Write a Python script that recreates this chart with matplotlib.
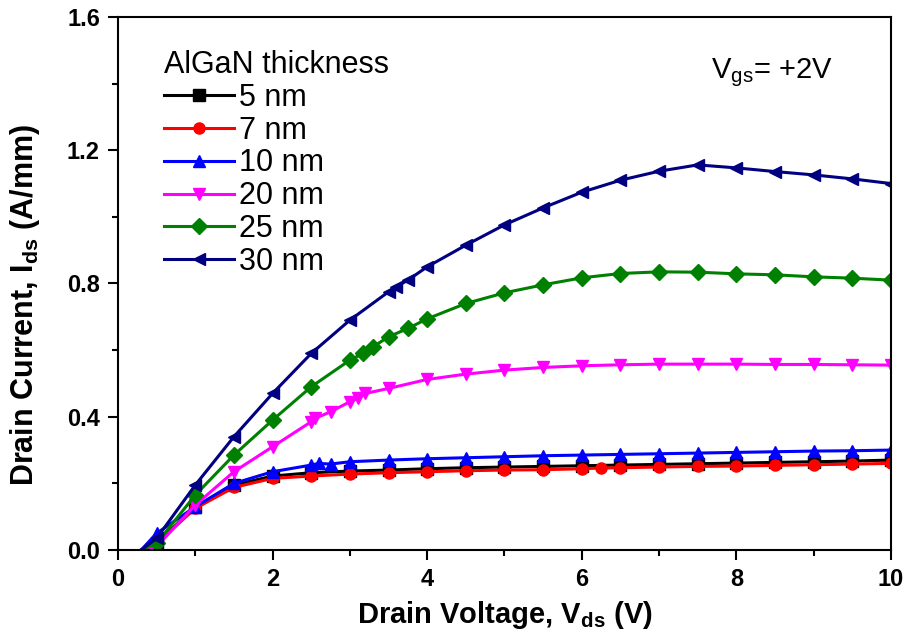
#Drain current vs drain voltage for different AlGaN thicknesses
import matplotlib
matplotlib.use('Agg')
import matplotlib.pyplot as plt
from matplotlib.ticker import MultipleLocator

#----------Datos----------#
labels = ['5 nm', '7 nm', '10 nm', '20 nm', '25 nm', '30 nm']
colors = ['black', 'red', 'blue', 'magenta', 'green', 'navy']
markers = ['s', 'o', '^', 'v', 'D', '<']

vd_5 = [0.3, 0.5, 1.0, 1.5, 2.0, 2.5, 3.0, 3.5, 4.0, 4.5, 5.0, 5.5, 6.0, 6.5, 7.0, 7.5, 8.0, 8.5, 9.0, 9.5, 10.0]
id_5 = [0.0, 0.02, 0.13, 0.195, 0.222, 0.232, 0.237, 0.240, 0.244, 0.247, 0.249, 0.251, 0.253, 0.255, 0.257, 0.259, 0.261, 0.263, 0.265, 0.267, 0.270]

vd_7 = [0.3, 0.5, 1.0, 1.5, 2.0, 2.5, 3.0, 3.5, 4.0, 4.5, 5.0, 5.5, 6.0, 6.25, 6.5, 7.0, 7.5, 8.0, 8.5, 9.0, 9.5, 10.0]
id_7 = [0.0, 0.02, 0.125, 0.188, 0.215, 0.222, 0.228, 0.232, 0.235, 0.238, 0.240, 0.241, 0.244, 0.246, 0.247, 0.249, 0.251, 0.252, 0.254, 0.256, 0.258, 0.260]

vd_10 = [0.3, 0.5, 1.0, 1.5, 2.0, 2.5, 2.6, 2.75, 3.0, 3.5, 4.0, 4.5, 5.0, 5.5, 6.0, 6.5, 7.0, 7.5, 8.0, 8.5, 9.0, 9.5, 10.0]
id_10 = [0.0, 0.05, 0.13, 0.20, 0.235, 0.255, 0.26, 0.258, 0.265, 0.27, 0.274, 0.277, 0.28, 0.283, 0.285, 0.287, 0.289, 0.291, 0.293, 0.295, 0.297, 0.298, 0.30]

vd_20 = [0.3, 0.5, 1.0, 1.5, 2.0, 2.5, 2.55, 2.75, 3.0, 3.1, 3.2, 3.5, 4.0, 4.5, 5.0, 5.5, 6.0, 6.5, 7.0, 7.5, 8.0, 8.5, 9.0, 9.5, 10.0]
id_20 = [0.0, 0.01, 0.135, 0.235, 0.31, 0.385, 0.395, 0.415, 0.445, 0.455, 0.47, 0.485, 0.512, 0.528, 0.54, 0.548, 0.553, 0.556, 0.558, 0.558, 0.558, 0.557, 0.557, 0.556, 0.555]

vd_25 = [0.3, 0.5, 1.0, 1.5, 2.0, 2.5, 3.0, 3.17, 3.3, 3.5, 3.75, 4.0, 4.5, 5.0, 5.5, 6.0, 6.5, 7.0, 7.5, 8.0, 8.5, 9.0, 9.5, 10.0]
id_25 = [0.0, 0.02, 0.165, 0.285, 0.39, 0.49, 0.57, 0.59, 0.61, 0.64, 0.665, 0.694, 0.74, 0.772, 0.796, 0.817, 0.83, 0.835, 0.834, 0.829, 0.826, 0.82, 0.816, 0.81]

vd_30 = [0.3, 0.5, 1.0, 1.5, 2.0, 2.5, 3.0, 3.5, 3.6, 3.75, 4.0, 4.5, 5.0, 5.5, 6.0, 6.5, 7.0, 7.5, 8.0, 8.5, 9.0, 9.5, 10.0]
id_30 = [0.0, 0.035, 0.195, 0.34, 0.47, 0.59, 0.69, 0.775, 0.79, 0.81, 0.85, 0.915, 0.976, 1.027, 1.074, 1.11, 1.137, 1.156, 1.147, 1.136, 1.126, 1.114, 1.10]

vds = [vd_5, vd_7, vd_10, vd_20, vd_25, vd_30]
ids = [id_5, id_7, id_10, id_20, id_25, id_30]

#----------Grafica----------#
plt.rcParams['font.family'] = ['Liberation Sans', 'DejaVu Sans']
plt.rcParams['mathtext.fontset'] = 'custom'
plt.rcParams['mathtext.rm'] = 'Liberation Sans'
plt.rcParams['mathtext.bf'] = 'Liberation Sans:bold'

fig = plt.figure(figsize=(9.11, 6.43), dpi=100)
ax = fig.add_axes([0.1295, 0.1446, 0.8485, 0.829])

# la primera muestra (Id = 0) no lleva marcador
for x, y, lab, c, m in zip(vds, ids, labels, colors, markers):
    ax.plot(x, y, color=c, marker=m, markersize=8, linewidth=2.2, label=lab,
            markevery=list(range(1, len(x))))

ax.set_xlim(0, 10)
ax.set_ylim(0, 1.6)
ax.xaxis.set_major_locator(MultipleLocator(2))
ax.xaxis.set_minor_locator(MultipleLocator(1))
ax.yaxis.set_major_locator(MultipleLocator(0.4))
ax.yaxis.set_minor_locator(MultipleLocator(0.2))
ax.yaxis.set_major_formatter(plt.FuncFormatter(lambda v, p: f'{v:.1f}'))
ax.tick_params(which='both', direction='out', width=1.5, top=False, right=False)
ax.tick_params(which='major', length=7, labelsize=17, pad=6)
ax.tick_params(which='minor', length=4)
for lbl in ax.get_xticklabels() + ax.get_yticklabels():
    lbl.set_fontweight('bold')
for s in ax.spines.values():
    s.set_linewidth(1.5)

ax.set_xlabel(r'Drain Voltage, V$_{\mathbf{ds}}$ (V)', fontsize=21, fontweight='bold', labelpad=6)
ax.set_ylabel(r'Drain Current, I$_{\mathbf{ds}}$ (A/mm)', fontsize=22, fontweight='bold', labelpad=18)
ax.yaxis.label.set_y(0.46)

ax.text(0.767, 0.885, r'V$_{\mathrm{gs}}$= +2V', transform=ax.transAxes, fontsize=21)

leg = ax.legend(loc='upper left', bbox_to_anchor=(0.036, 0.972), frameon=False,
                title='AlGaN thickness', alignment='left', handlelength=2.3,
                handletextpad=0.15, labelspacing=0.09, borderaxespad=0.2,
                fontsize=22, title_fontsize=22)

fig.savefig('out.png', dpi=100)
